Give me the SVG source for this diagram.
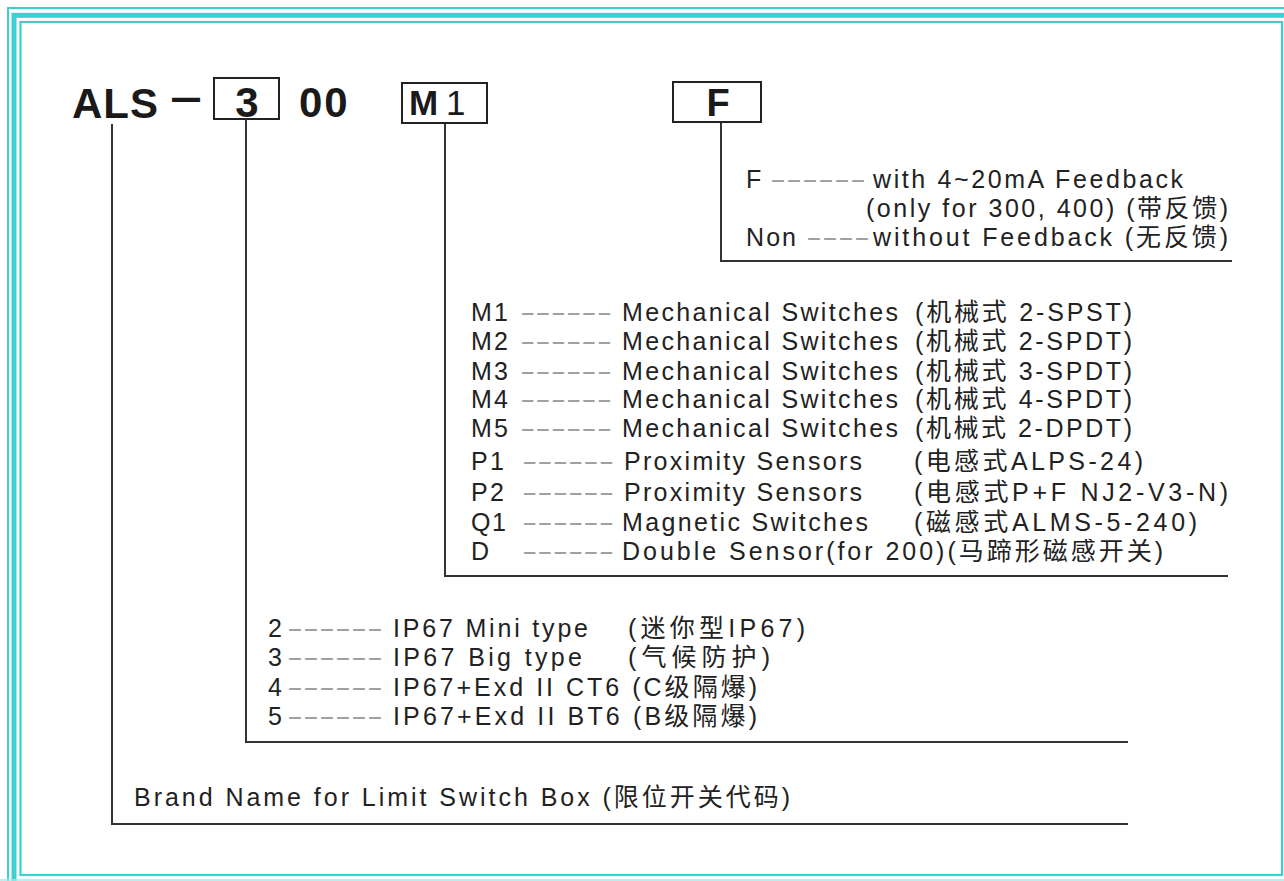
<svg xmlns="http://www.w3.org/2000/svg" width="1284" height="881" viewBox="0 0 1284 881">
<style>
.t{font-family:"Liberation Sans","Noto Sans CJK SC",sans-serif;font-size:25px;fill:#222;}
.d{font-family:"Liberation Sans",sans-serif;font-size:25px;fill:#a0a0a0;}
.h{font-family:"Liberation Sans",sans-serif;font-weight:bold;fill:#1a1a1a;}
.box{fill:none;stroke:#222;stroke-width:2;}
.c{fill:none;stroke:#333;stroke-width:2;}
.b{fill:none;stroke:#3cd0d0;}
</style>
<rect width="1284" height="881" fill="#ffffff"/>
<g id="border">
<rect class="b" x="8" y="8" width="1300" height="900" stroke-width="2"/>
<rect class="b" x="14" y="15.3" width="1300" height="900" stroke-width="5"/>
<rect class="b" x="20.5" y="22" width="1261.5" height="853" stroke-width="2.2"/>
<line x1="0" y1="880" x2="1284" y2="880" stroke="#a6e8e8" stroke-width="1.5"/>
</g>
<g id="connectors">
<path class="c" d="M112,124 V824 H1128"/>
<path class="c" d="M246,119 V742 H1128"/>
<path class="c" d="M445,123 V576 H1228"/>
<path class="c" d="M721,122 V261 H1232"/>
</g>
<g id="header">
<text class="h" x="72" y="118" font-size="42" letter-spacing="1">ALS</text>
<text class="h" x="172" y="111" font-size="42" textLength="28" lengthAdjust="spacingAndGlyphs">—</text>
<text class="h" x="299" y="117" font-size="42" letter-spacing="2">00</text>
</g>
<g id="node-size">
<rect class="box" x="214" y="78" width="65" height="41"/>
<text class="h" x="247" y="117" font-size="42" text-anchor="middle">3</text>
</g>
<g id="node-switch">
<rect class="box" x="402" y="83" width="85" height="40"/>
<text class="h" x="409" y="115" font-size="35">M</text>
<text x="446" y="115" font-size="35" font-family="Liberation Sans, sans-serif" fill="#1a1a1a">1</text>
</g>
<g id="node-feedback">
<rect class="box" x="673" y="82" width="88" height="40"/>
<text class="h" x="718" y="116" font-size="38" text-anchor="middle">F</text>
</g>
<g id="legend-feedback">
<text class="t" x="746" y="188">F</text>
<text class="d" x="770" y="188" textLength="96" lengthAdjust="spacingAndGlyphs">------</text>
<text class="t" x="873" y="188" textLength="310">with 4~20mA Feedback</text>
<text class="t" x="866" y="217" textLength="362">(only for 300, 400) (带反馈)</text>
<text class="t" x="746" y="246" textLength="50">Non</text>
<text class="d" x="806" y="246" textLength="64" lengthAdjust="spacingAndGlyphs">----</text>
<text class="t" x="873" y="246" textLength="355">without Feedback (无反馈)</text>
</g>
<g id="legend-switch">
<text class="t" x="471" y="321" textLength="37">M1</text>
<text class="d" x="520" y="321" textLength="92" lengthAdjust="spacingAndGlyphs">------</text>
<text class="t" x="622" y="321" textLength="276">Mechanical Switches</text>
<text class="t" x="915" y="321" textLength="217">(机械式 2-SPST)</text>
<text class="t" x="471" y="350" textLength="37">M2</text>
<text class="d" x="520" y="350" textLength="92" lengthAdjust="spacingAndGlyphs">------</text>
<text class="t" x="622" y="350" textLength="276">Mechanical Switches</text>
<text class="t" x="915" y="350" textLength="217">(机械式 2-SPDT)</text>
<text class="t" x="471" y="380" textLength="37">M3</text>
<text class="d" x="520" y="380" textLength="92" lengthAdjust="spacingAndGlyphs">------</text>
<text class="t" x="622" y="380" textLength="276">Mechanical Switches</text>
<text class="t" x="915" y="380" textLength="217">(机械式 3-SPDT)</text>
<text class="t" x="471" y="408" textLength="37">M4</text>
<text class="d" x="520" y="408" textLength="92" lengthAdjust="spacingAndGlyphs">------</text>
<text class="t" x="622" y="408" textLength="276">Mechanical Switches</text>
<text class="t" x="915" y="408" textLength="217">(机械式 4-SPDT)</text>
<text class="t" x="471" y="437" textLength="37">M5</text>
<text class="d" x="520" y="437" textLength="92" lengthAdjust="spacingAndGlyphs">------</text>
<text class="t" x="622" y="437" textLength="276">Mechanical Switches</text>
<text class="t" x="915" y="437" textLength="217">(机械式 2-DPDT)</text>
<text class="t" x="471" y="470" textLength="33">P1</text>
<text class="d" x="522" y="470" textLength="92" lengthAdjust="spacingAndGlyphs">------</text>
<text class="t" x="624" y="470" textLength="238">Proximity Sensors</text>
<text class="t" x="914" y="470" textLength="229">(电感式ALPS-24)</text>
<text class="t" x="471" y="501" textLength="33">P2</text>
<text class="d" x="522" y="501" textLength="92" lengthAdjust="spacingAndGlyphs">------</text>
<text class="t" x="624" y="501" textLength="238">Proximity Sensors</text>
<text class="t" x="914" y="501" textLength="314">(电感式P+F NJ2-V3-N)</text>
<text class="t" x="471" y="531" textLength="35">Q1</text>
<text class="d" x="522" y="531" textLength="92" lengthAdjust="spacingAndGlyphs">------</text>
<text class="t" x="622" y="531" textLength="246">Magnetic Switches</text>
<text class="t" x="914" y="531" textLength="283">(磁感式ALMS-5-240)</text>
<text class="t" x="471" y="560">D</text>
<text class="d" x="522" y="560" textLength="92" lengthAdjust="spacingAndGlyphs">------</text>
<text class="t" x="622" y="560" textLength="541">Double Sensor(for 200)(马蹄形磁感开关)</text>
</g>
<g id="legend-size">
<text class="t" x="268" y="637">2</text>
<text class="d" x="287" y="637" textLength="96" lengthAdjust="spacingAndGlyphs">------</text>
<text class="t" x="393" y="637" textLength="195">IP67 Mini type</text>
<text class="t" x="628" y="637" textLength="177">(迷你型IP67)</text>
<text class="t" x="268" y="666">3</text>
<text class="d" x="287" y="666" textLength="96" lengthAdjust="spacingAndGlyphs">------</text>
<text class="t" x="393" y="666" textLength="189">IP67 Big  type</text>
<text class="t" x="628" y="666" textLength="142">(气候防护)</text>
<text class="t" x="268" y="696">4</text>
<text class="d" x="287" y="696" textLength="96" lengthAdjust="spacingAndGlyphs">------</text>
<text class="t" x="393" y="696" textLength="364">IP67+Exd II CT6 (C级隔爆)</text>
<text class="t" x="268" y="725">5</text>
<text class="d" x="287" y="725" textLength="96" lengthAdjust="spacingAndGlyphs">------</text>
<text class="t" x="393" y="725" textLength="364">IP67+Exd II BT6 (B级隔爆)</text>
</g>
<g id="legend-brand">
<text class="t" x="134" y="806" textLength="656">Brand Name for Limit Switch Box (限位开关代码)</text>
</g>
</svg>
